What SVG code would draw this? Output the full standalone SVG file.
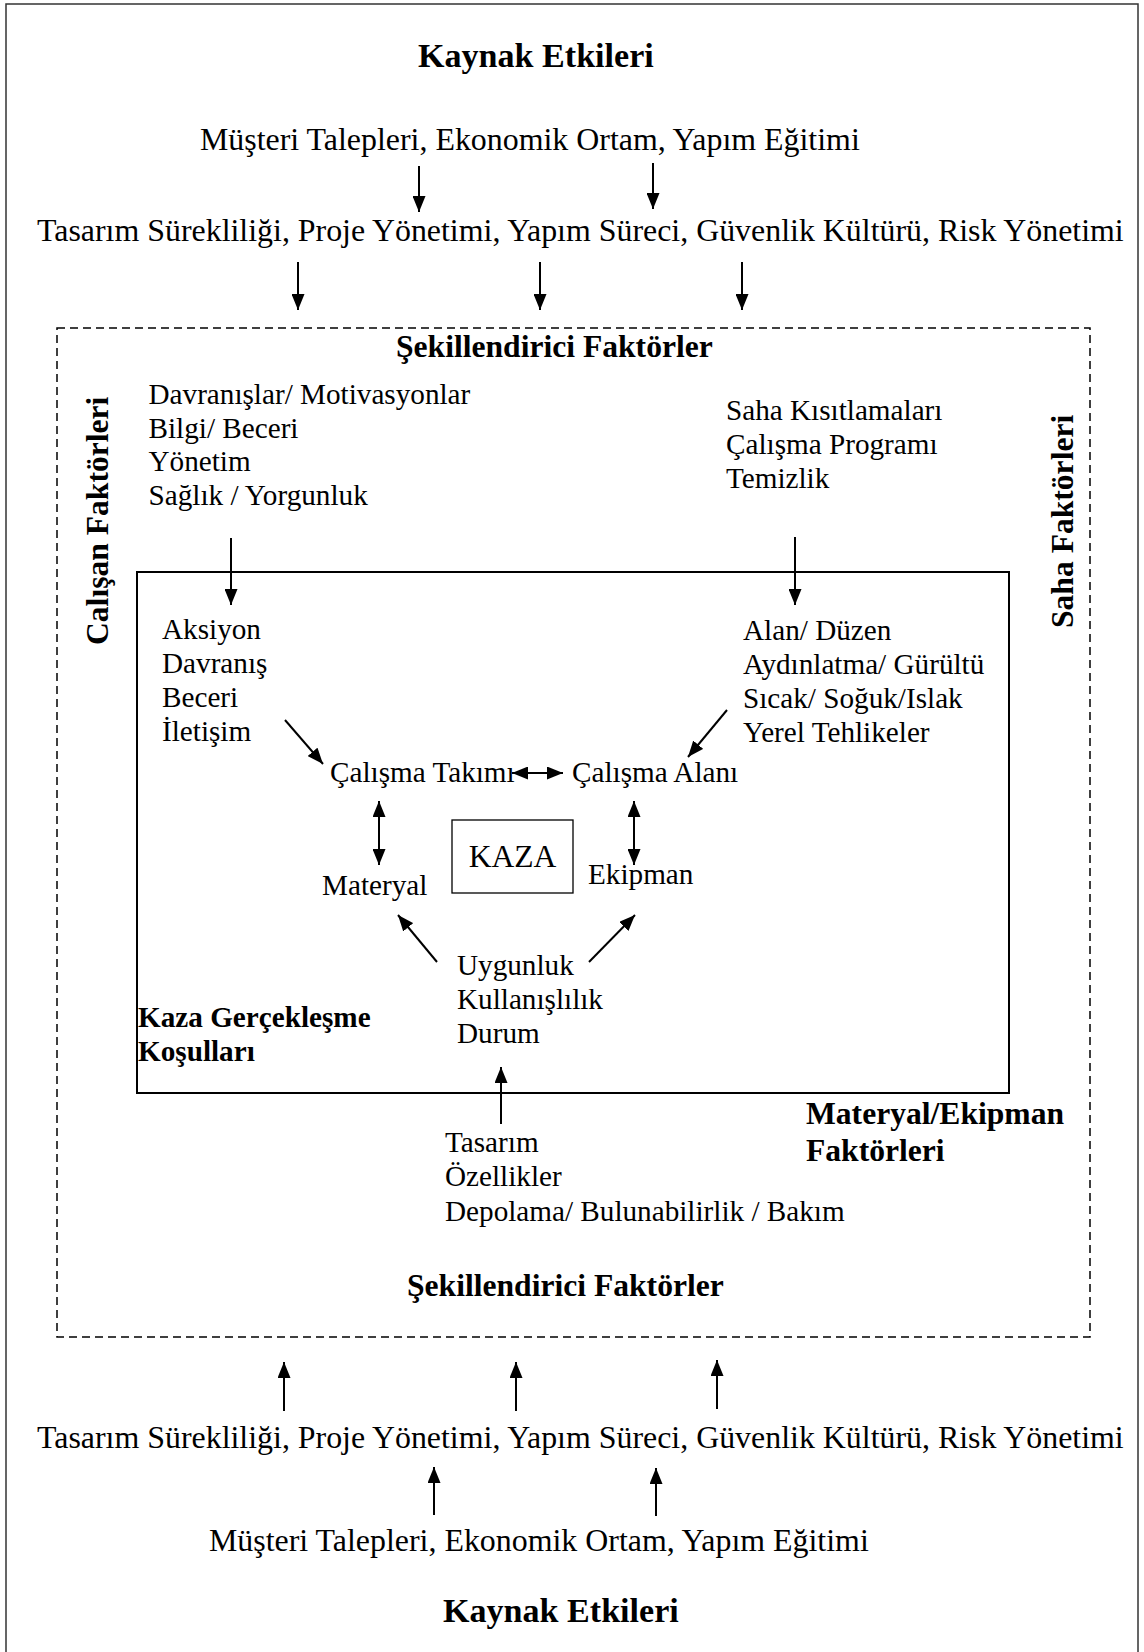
<svg xmlns="http://www.w3.org/2000/svg" width="1144" height="1652" viewBox="0 0 1144 1652">
<defs>
<style>
text{font-family:"Liberation Serif","Times New Roman",serif;fill:#000}
.r12{font-size:29.2px}
.r13{font-size:31.9px}
.k13{font-size:31.6px}
.b12{font-size:29.2px;font-weight:bold}
.b13{font-size:31.6px;font-weight:bold}
.b14{font-size:34.1px;font-weight:bold}
.ar{stroke:#000;stroke-width:2;fill:none;marker-end:url(#ah)}
.dar{stroke:#000;stroke-width:2;fill:none;marker-end:url(#ah);marker-start:url(#ah)}
</style>
<marker id="ah" markerUnits="userSpaceOnUse" markerWidth="16" markerHeight="13" refX="16" refY="6.5" orient="auto-start-reverse">
<path d="M0,0 L16,6.5 L0,13 z" fill="#000"/>
</marker>
</defs>
<rect x="0" y="0" width="1144" height="1652" fill="#fff"/>
<rect id="frame" x="6" y="4" width="1132" height="1670" fill="none" stroke="#333" stroke-width="1.5"/>

<g id="top-kaynak"><text class="b14" x="418" y="67">Kaynak Etkileri</text></g>
<g id="top-musteri"><text class="r13" x="200" y="150">Müşteri Talepleri, Ekonomik Ortam, Yapım Eğitimi</text></g>
<g id="top-tasarim"><text class="r13" x="37" y="241">Tasarım Sürekliliği, Proje Yönetimi, Yapım Süreci, Güvenlik Kültürü, Risk Yönetimi</text></g>

<g id="shaping">
<rect x="57" y="328" width="1033" height="1009" fill="none" stroke="#000" stroke-width="1.5" stroke-dasharray="8 5"/>
<text class="b13" x="396" y="357">Şekillendirici Faktörler</text>
<text class="b13" x="407" y="1296">Şekillendirici Faktörler</text>
</g>

<g id="calisan-faktorleri"><text class="b13" transform="translate(108,645) rotate(-90)">Calışan Faktörleri</text></g>
<g id="saha-faktorleri"><text class="b13" transform="translate(1073,628) rotate(-90)">Saha Faktörleri</text></g>

<g id="worker-list">
<text class="r12" x="148.5" y="404">Davranışlar/ Motivasyonlar</text>
<text class="r12" x="148.5" y="437.5">Bilgi/ Beceri</text>
<text class="r12" x="148.5" y="471">Yönetim</text>
<text class="r12" x="148.5" y="504.5">Sağlık / Yorgunluk</text>
</g>
<g id="site-list">
<text class="r12" x="726" y="420">Saha Kısıtlamaları</text>
<text class="r12" x="726" y="454">Çalışma Programı</text>
<text class="r12" x="726" y="488">Temizlik</text>
</g>

<g id="kaza-kosullari">
<rect x="137" y="572" width="872" height="521" fill="none" stroke="#000" stroke-width="2"/>
<text class="b12" x="138" y="1027">Kaza Gerçekleşme</text>
<text class="b12" x="138" y="1061">Koşulları</text>
</g>

<g id="team-list">
<text class="r12" x="162" y="639">Aksiyon</text>
<text class="r12" x="162" y="673">Davranış</text>
<text class="r12" x="162" y="707">Beceri</text>
<text class="r12" x="162" y="741">İletişim</text>
</g>
<g id="area-list">
<text class="r12" x="743" y="640">Alan/ Düzen</text>
<text class="r12" x="743" y="674">Aydınlatma/ Gürültü</text>
<text class="r12" x="743" y="708">Sıcak/ Soğuk/Islak</text>
<text class="r12" x="743" y="742">Yerel Tehlikeler</text>
</g>

<g id="calisma-takimi"><text class="r12" x="330" y="782">Çalışma Takımı</text></g>
<g id="calisma-alani"><text class="r12" x="572" y="782">Çalışma Alanı</text></g>
<g id="kaza">
<rect x="452" y="820" width="121" height="73" fill="none" stroke="#000" stroke-width="1.3"/>
<text class="k13" x="512.5" y="867" text-anchor="middle">KAZA</text>
</g>
<g id="materyal"><text class="r12" x="322" y="895">Materyal</text></g>
<g id="ekipman"><text class="r12" x="588" y="884">Ekipman</text></g>

<g id="uygunluk">
<text class="r12" x="457" y="975">Uygunluk</text>
<text class="r12" x="457" y="1009">Kullanışlılık</text>
<text class="r12" x="457" y="1043">Durum</text>
</g>

<g id="design-list">
<text class="r12" x="445" y="1152">Tasarım</text>
<text class="r12" x="445" y="1186">Özellikler</text>
<text class="r12" x="445" y="1221">Depolama/ Bulunabilirlik / Bakım</text>
</g>
<g id="materyal-ekipman-faktorleri">
<text class="b13" x="806" y="1124">Materyal/Ekipman</text>
<text class="b13" x="806" y="1161">Faktörleri</text>
</g>

<g id="bottom-tasarim"><text class="r13" x="37" y="1448">Tasarım Sürekliliği, Proje Yönetimi, Yapım Süreci, Güvenlik Kültürü, Risk Yönetimi</text></g>
<g id="bottom-musteri"><text class="r13" x="209" y="1551">Müşteri Talepleri, Ekonomik Ortam, Yapım Eğitimi</text></g>
<g id="bottom-kaynak"><text class="b14" x="443" y="1622">Kaynak Etkileri</text></g>

<g id="connectors">
<line class="ar" x1="419" y1="166" x2="419" y2="212"/>
<line class="ar" x1="653" y1="163" x2="653" y2="209"/>
<line class="ar" x1="298" y1="262" x2="298" y2="310"/>
<line class="ar" x1="540" y1="262" x2="540" y2="310"/>
<line class="ar" x1="742" y1="262" x2="742" y2="310"/>
<line class="ar" x1="231" y1="538" x2="231" y2="605"/>
<line class="ar" x1="795" y1="537" x2="795" y2="605"/>
<line class="ar" x1="285" y1="720" x2="323" y2="764"/>
<line class="ar" x1="727" y1="710" x2="688" y2="757"/>
<line class="dar" x1="512" y1="773" x2="563" y2="773"/>
<line class="dar" x1="379" y1="801" x2="379" y2="865"/>
<line class="dar" x1="634" y1="801" x2="634" y2="865"/>
<line class="ar" x1="437" y1="962" x2="398" y2="915"/>
<line class="ar" x1="589" y1="962" x2="635" y2="915"/>
<line class="ar" x1="501" y1="1124" x2="501" y2="1067"/>
<line class="ar" x1="284" y1="1411" x2="284" y2="1362"/>
<line class="ar" x1="516" y1="1411" x2="516" y2="1362"/>
<line class="ar" x1="717" y1="1409" x2="717" y2="1360"/>
<line class="ar" x1="434" y1="1515" x2="434" y2="1467"/>
<line class="ar" x1="656" y1="1516" x2="656" y2="1468"/>
</g>
</svg>
